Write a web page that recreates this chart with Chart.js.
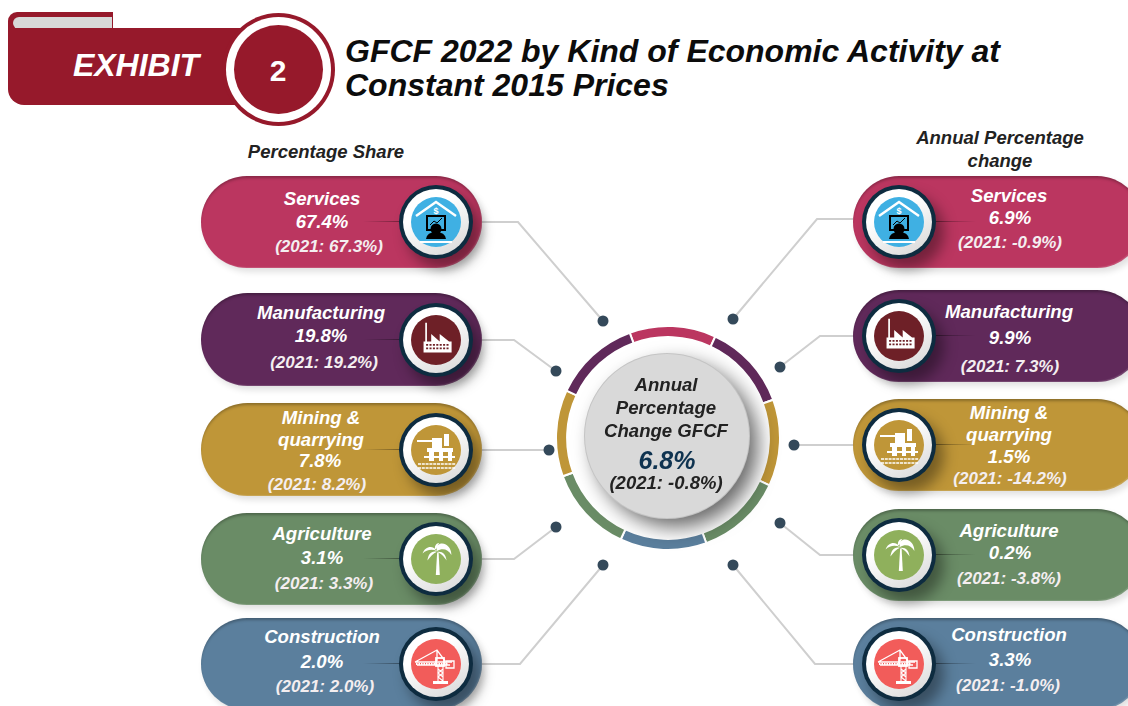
<!DOCTYPE html>
<html>
<head>
<meta charset="utf-8">
<title>GFCF 2022</title>
<script src="https://cdn.jsdelivr.net/npm/chart.js@4"></script>
<style>
html, body { margin: 0; padding: 0; background: #fff; }
#page { position: relative; width: 1128px; height: 706px; overflow: hidden; font-family: "Liberation Sans", Arial, sans-serif; }
#page > * { position: absolute; }
.t { position: absolute; transform: translate(-50%, -50%); white-space: nowrap; font-weight: bold; font-style: italic; line-height: 1; }
.pill { border-radius: 47px; box-shadow: inset 0 3px 3px -1px rgba(0,0,0,.28), inset -1px -1px 1px rgba(255,255,255,.15), 3px 4px 6px rgba(0,0,0,.12); }
.seam { position: absolute; height: 1px; }
.icon { position: absolute; width: 74px; height: 74px; border-radius: 50%; background: #0e2c40; box-shadow: 8px 10px 14px rgba(0,0,0,.38); }
.icon i { position: absolute; left: 4px; top: 4px; width: 66px; height: 66px; border-radius: 50%; background: linear-gradient(150deg, #ffffff 35%, #dcdcdc 90%); }
.icon svg { position: absolute; left: 12px; top: 12px; }
</style>
</head>
<body>
<div id="page">
    <!-- banner -->
    <div style="left:8px;top:12px;width:105px;height:30px;background:#96192b;border-radius:9px 0 0 0"></div>
    <div style="left:13px;top:17px;width:99px;height:12px;background:#d8d8d8;border-radius:6px 0 0 6px"></div>
    <div style="left:8px;top:28px;width:245px;height:77px;background:#96192b;border-radius:0 0 0 16px"></div>
    <div style="left:222px;top:13px;width:113px;height:113px;border-radius:50%;background:#96192b"></div>
    <div style="left:226px;top:17px;width:105px;height:105px;border-radius:50%;background:#fff"></div>
    <div style="left:234px;top:25px;width:89px;height:89px;border-radius:50%;background:#96192b"></div>
    <svg id="links" width="1128" height="706" style="left:0;top:0"></svg>
    <div style="left:556px;top:326px;width:224px;height:224px"><canvas id="ring" width="224" height="224"></canvas></div>
    <div style="left:585px;top:354px;width:164px;height:164px;border-radius:50%;background:#d9d9d9;box-shadow:0 0 0 1px #c4c4c4, 9px 9px 20px rgba(0,0,0,.6)"></div>
</div>
<script>
const categories = ['Services', 'Manufacturing', 'Mining & quarrying', 'Agriculture', 'Construction'];
const shareValues = [67.4, 19.8, 7.8, 3.1, 2.0];
const sharePrior = [67.3, 19.2, 8.2, 3.3, 2.0];
const changeValues = [6.9, 9.9, 1.5, 0.2, 3.3];
const changePrior = [-0.9, 7.3, -14.2, -3.8, -1.0];
const totalChange = 6.8;
const totalPrior = -0.8;

// ring around the centre, clockwise from the pink arc (arc sizes in degrees)
const ringLabels = ['Services', 'Manufacturing', 'Mining', 'Agriculture', 'Construction', 'Agriculture', 'Mining', 'Manufacturing'];
const ringValues = [45, 45, 45, 45, 45, 45, 45, 45];

const pillColors = ['#bb3660', '#60295a', '#bf9638', '#6a8c66', '#5b7f9d'];
const iconColors = ['#3fb0e3', '#6e2027', '#bf9638', '#8fb05c', '#f25c5a'];
const ringColors = ['#bb3660', '#60295a', '#bf9638', '#6a8c66', '#5b7f9d', '#6a8c66', '#bf9638', '#60295a'];

const page = document.getElementById('page');

function text(x, y, str, size, color) {
    const d = document.createElement('div');
    d.className = 't';
    d.style.left = x + 'px';
    d.style.top = y + 'px';
    d.style.fontSize = size + 'px';
    d.style.color = color;
    d.textContent = str;
    page.appendChild(d);
    return d;
}

const pct = v => v.toFixed(1) + '%';
const prior = v => '(2021: ' + v.toFixed(1) + '%)';

// icon drawings, 50x50 box centred on 0,0
const iconArt = [
    `<path d="M-20-6 0-20 20-6" fill="none" stroke="#fff" stroke-width="2.4"/>
     <text x="0" y="-8" font-size="9" font-weight="bold" fill="#fff" text-anchor="middle" font-family="Liberation Sans">$</text>
     <rect x="-9" y="-6" width="18" height="14" fill="#3fb0e3" stroke="#000" stroke-width="2"/>
     <path d="M-6 3-2-1 1 1 6-4" fill="none" stroke="#000" stroke-width="1"/>
     <circle cx="0" cy="7" r="5.5" fill="#000"/><path d="M-10 17Q-9 10 0 10T10 17Z" fill="#000"/>
     <path d="M-16 20H16" stroke="#fff" stroke-width="2"/>`,
    `<g transform="translate(2 -1) scale(.85)"><path d="M-15-19h2V3h-2ZM-17 3-8 3V-6L2 3V-6L13 3 16 3V16H-17Z" fill="#fff"/>
     <path d="M-14 7H13M-14 11H13" stroke="#6e2027" stroke-width="2" stroke-dasharray="2.4 1.6"/></g>`,
    `<path d="M-19-10H-2V-8H-19ZM-4-12H6V-2H-4ZM8-16H13V-4H8ZM-9 -2H17V2H-9ZM-7 2H-2V11H-7ZM3 2H7V11H3ZM12 2H16V11H12ZM-12 6H19V8H-12Z" fill="#fff"/>
     <path d="M-18 14H20M-18 18H20" stroke="#fff" stroke-width="1.6" stroke-dasharray="3 .8"/>`,
    `<g transform="translate(1 0) scale(.8)"><path d="M-1.5 20 .2-8 2-8 3.5 20Z" fill="#fff"/>
     <path d="M0-10C-5-18-15-16-18-7-13-12-6-13 0-10ZM0-10C-2-19 6-21 11-18 15-16 18-11 18-5 14-12 7-14 0-10ZM0-9C-7-11-11-6-12 2-8-3-5-7 0-9ZM0-9C7-10 11-6 12 2 8-4 5-7 0-9ZM-2-10C-4-16-1-20 3-20 0-17 0-14-2-10Z" fill="#fff"/></g>`,
    `<path d="M-21-2 1-14 9-3M-21-2H16M1-14V-3M-19 1H14" fill="none" stroke="#fff" stroke-width="1.3"/>
     <path d="M-20 0H12" stroke="#fff" stroke-width="2" stroke-dasharray="1.5 1"/>
     <rect x="0" y="-6" width="8" height="8" fill="none" stroke="#fff" stroke-width="1.8"/>
     <path d="M10-3H18V4H10Z" fill="none" stroke="#fff" stroke-width="1.3"/>
     <path d="M2 2V17M7 2V17M2 5 7 9 2 13 7 17M7 5 2 9 7 13" fill="none" stroke="#fff" stroke-width="1.1"/>
     <rect x="-3" y="17" width="15" height="3" fill="#fff"/>`
];

function addPill(i, side, box, lines, value, past) {
    const p = document.createElement('div');
    p.className = 'pill';
    p.style.cssText = `left:${box.x}px;top:${box.y}px;width:${box.w}px;height:${box.h}px;background:${pillColors[i]}`;
    page.appendChild(p);

    const iconX = side === 'left' ? box.x + box.w - 83 : box.x + 9;
    const seam = document.createElement('div');
    seam.className = 'seam';
    const seamDir = side === 'left' ? 'to left' : 'to right';
    seam.style.cssText += `left:${side === 'left' ? iconX - 36 : iconX + 74}px;top:${box.y + box.h / 2 - 1}px;width:40px;background:linear-gradient(${seamDir},rgba(0,0,0,.4),rgba(0,0,0,0))`;
    page.appendChild(seam);

    const ic = document.createElement('div');
    ic.className = 'icon';
    ic.style.left = iconX + 'px';
    ic.style.top = (box.y + box.h / 2 - 37) + 'px';
    ic.innerHTML = `<i></i><svg width="50" height="50" viewBox="-25 -25 50 50"><circle r="25" fill="${iconColors[i]}"/>${iconArt[i]}</svg>`;
    page.appendChild(ic);

    const names = categories[i] === 'Mining & quarrying' ? ['Mining &', 'quarrying'] : [categories[i]];
    const strs = names.concat([pct(value), prior(past)]);
    strs.forEach((s, k) => {
        const isPrior = k === strs.length - 1;
        text(lines.x[k], lines.y[k], s, isPrior ? 17 : 18.6, isPrior ? '#f4eef0' : '#fff');
    });
}

// layout of both columns
const leftBoxes = [
    { x: 201, y: 176, w: 281, h: 92 }, { x: 201, y: 293, w: 281, h: 93 }, { x: 201, y: 403, w: 281, h: 93 },
    { x: 201, y: 513, w: 281, h: 92 }, { x: 201, y: 618, w: 281, h: 92 }
];
const rightBoxes = [
    { x: 853, y: 176, w: 290, h: 92 }, { x: 853, y: 290, w: 290, h: 92 }, { x: 853, y: 399, w: 290, h: 92 },
    { x: 853, y: 509, w: 290, h: 92 }, { x: 853, y: 618, w: 290, h: 92 }
];
const leftLines = [
    { x: [322, 322, 329], y: [199, 222, 246] },
    { x: [321, 321, 324], y: [313, 336, 362] },
    { x: [321, 321, 320, 317], y: [418, 440, 461, 484] },
    { x: [322, 322, 324], y: [534, 558, 583] },
    { x: [322, 322, 325], y: [637, 662, 686] }
];
const rightLines = [
    { x: [1009, 1010, 1010], y: [196, 218, 242] },
    { x: [1009, 1010, 1010], y: [312, 338, 366] },
    { x: [1009, 1009, 1009, 1010], y: [413, 435, 457, 478] },
    { x: [1009, 1010, 1009], y: [531, 553, 578] },
    { x: [1009, 1010, 1008], y: [635, 660, 685] }
];
const links = [
    [[482, 222], [518, 222], [603, 321]], [[482, 340], [514, 340], [556, 371]], [[482, 450], [549, 450]],
    [[482, 559], [514, 559], [556, 527]], [[482, 664], [520, 664], [603, 565]],
    [[853, 219], [817, 219], [733, 319]], [[853, 336], [820, 336], [780, 367]], [[853, 445], [794, 445]],
    [[853, 555], [820, 555], [780, 523]], [[853, 664], [815, 664], [733, 565]]
];
document.getElementById('links').innerHTML = links.map(l => {
    const end = l[l.length - 1];
    return `<polyline points="${l.join(' ')}" fill="none" stroke="#cfcfcf" stroke-width="2"/>` +
        `<circle cx="${end[0]}" cy="${end[1]}" r="5.5" fill="#34495a"/>`;
}).join('');

categories.forEach((c, i) => {
    addPill(i, 'left', leftBoxes[i], leftLines[i], shareValues[i], sharePrior[i]);
    addPill(i, 'right', rightBoxes[i], rightLines[i], changeValues[i], changePrior[i]);
});

// headings
text(136, 65, 'EXHIBIT', 32, '#fff');
text(278, 71, '2', 30, '#fff').style.fontStyle = 'normal';
const title = text(345, 51, 'GFCF 2022 by Kind of Economic Activity at', 32, '#0c0c0c');
title.style.transform = 'translate(0,-50%)';
const title2 = text(345, 85, 'Constant 2015 Prices', 32, '#0c0c0c');
title2.style.transform = 'translate(0,-50%)';
text(326, 152, 'Percentage Share', 18.5, '#222');
text(1000, 138, 'Annual Percentage', 18.5, '#222');
text(1000, 161, 'change', 18.5, '#222');

// centre
text(666, 385, 'Annual', 18.6, '#222');
text(666, 408, 'Percentage', 18.6, '#222');
text(666, 431, 'Change GFCF', 18.6, '#222');
text(667, 460, pct(totalChange), 25, '#0f3350');
text(666, 483, prior(totalPrior), 18.5, '#222');

new Chart(document.getElementById('ring'), {
    type: 'doughnut',
    data: {
        labels: ringLabels,
        datasets: [{
            data: ringValues,
            backgroundColor: ringColors,
            borderColor: '#fff',
            borderWidth: 2,
        }]
    },
    options: {
        responsive: false,
        animation: false,
        rotation: -20,
        cutout: 100,
        radius: 112,
        layout: { padding: 0 },
        plugins: { legend: { display: false }, tooltip: { enabled: false } },
    },
});
</script>
</body>
</html>
